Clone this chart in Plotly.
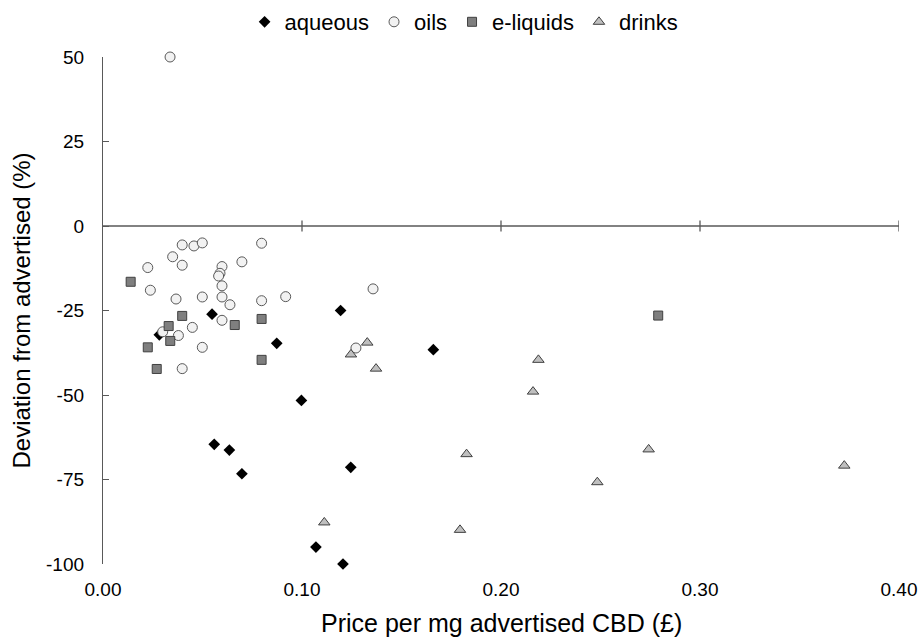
import plotly.graph_objects as go

aqueous_x = [0.0548, 0.0283, 0.0873, 0.0997, 0.0559, 0.0635, 0.0698, 0.1194, 0.166, 0.1245, 0.107, 0.1206]
aqueous_y = [-26.1, -32.2, -34.7, -51.6, -64.6, -66.3, -73.3, -25.0, -36.6, -71.4, -95.0, -100.0]

oils_x = [0.0337, 0.0398, 0.0457, 0.0499, 0.0797, 0.035, 0.0398, 0.0225, 0.0598, 0.0588, 0.0581,
          0.0698, 0.0598, 0.0238, 0.0367, 0.0499, 0.0598, 0.0638, 0.0797, 0.0918, 0.0598, 0.0449,
          0.030, 0.0379, 0.0499, 0.0398, 0.1357, 0.1271]
oils_y = [50.0, -5.6, -5.9, -5.0, -5.1, -9.1, -11.6, -12.3, -12.0, -14.0, -14.8,
          -10.6, -17.7, -19.0, -21.6, -21.0, -21.0, -23.3, -22.1, -20.9, -27.9, -30.0,
          -31.3, -32.4, -35.9, -42.2, -18.6, -36.1]

eliq_x = [0.0139, 0.0398, 0.033, 0.0662, 0.0797, 0.0338, 0.0225, 0.0797, 0.027, 0.279]
eliq_y = [-16.5, -26.6, -29.6, -29.3, -27.5, -34.0, -35.9, -39.6, -42.3, -26.5]

drinks_x = [0.1328, 0.1246, 0.1372, 0.1827, 0.1112, 0.1794, 0.2188, 0.2161, 0.2742, 0.3725, 0.2484]
drinks_y = [-34.5, -38.0, -42.2, -67.5, -87.7, -89.9, -39.6, -49.0, -66.1, -70.9, -75.8]

x_ticks = [0.0, 0.1, 0.2, 0.3, 0.4]
x_tick_labels = ["0.00", "0.10", "0.20", "0.30", "0.40"]
y_ticks = [50, 25, 0, -25, -50, -75, -100]
y_tick_labels = ["50", "25", "0", "-25", "-50", "-75", "-100"]

x_title = "Price per mg advertised CBD (£)"
y_title = "Deviation from advertised (%)"

axis_col = "#595959"
font = "Liberation Sans, Arial, sans-serif"

W, H = 919, 638

fig = go.Figure()
fig.add_trace(go.Scatter(x=aqueous_x, y=aqueous_y, mode="markers", name="aqueous",
                         marker=dict(symbol="diamond", size=9, color="#000000",
                                     line=dict(width=0)), cliponaxis=False))
fig.add_trace(go.Scatter(x=oils_x, y=oils_y, mode="markers", name="oils",
                         marker=dict(symbol="circle", size=10, color="#f2f2f2",
                                     line=dict(width=1, color="#595959")), cliponaxis=False))
fig.add_trace(go.Scatter(x=eliq_x, y=eliq_y, mode="markers", name="e-liquids",
                         marker=dict(symbol="square", size=9, color="#7f7f7f",
                                     line=dict(width=1, color="#404040")), cliponaxis=False))
fig.add_trace(go.Scatter(x=drinks_x, y=drinks_y, mode="markers", name="drinks",
                         marker=dict(symbol="triangle-up", size=10, color="#bfbfbf",
                                     line=dict(width=1, color="#404040")), cliponaxis=False))

# horizontal axis line at y=0 with crossing tick marks
shapes = [dict(type="line", xref="x", yref="y", x0=x_ticks[0], x1=x_ticks[-1], y0=0, y1=0,
               line=dict(color=axis_col, width=1.3), layer="below")]
for t in x_ticks[1:]:
    shapes.append(dict(type="line", xref="x", yref="y", x0=t, x1=t, y0=-1.6, y1=1.6,
                       line=dict(color=axis_col, width=1.3), layer="below"))

annotations = [
    dict(text=x_title, xref="paper", yref="paper", x=0.5, y=0, yanchor="middle",
         xanchor="center", yshift=-59, showarrow=False, font=dict(size=25)),
    dict(text=y_title, xref="paper", yref="paper", x=0, y=0.5, xanchor="center",
         yanchor="middle", xshift=-82, showarrow=False, textangle=-90, font=dict(size=24)),
]

fig.update_layout(
    width=W, height=H,
    paper_bgcolor="white", plot_bgcolor="white",
    margin=dict(l=103, r=20, t=57, b=74, autoexpand=False),
    font=dict(family=font, size=19, color="#000000"),
    shapes=shapes,
    annotations=annotations,
    showlegend=True,
    legend=dict(orientation="h", xref="container", yref="container",
                x=0.505, xanchor="center", y=1 - 22 / H, yanchor="middle",
                font=dict(size=22), itemwidth=30, bgcolor="rgba(0,0,0,0)"),
    xaxis=dict(range=[0, 0.4], tickvals=x_ticks, ticktext=x_tick_labels,
               showgrid=False, zeroline=False, showline=False, ticks="",
               automargin=False, ticklabelstandoff=12),
    yaxis=dict(range=[-100, 50], tickvals=y_ticks, ticktext=y_tick_labels,
               showgrid=False, zeroline=False, showline=True, linecolor=axis_col, linewidth=1.3,
               ticks="inside", ticklen=6, tickcolor=axis_col, tickwidth=1.3,
               automargin=False, ticklabelstandoff=14),
)

fig.write_html("out.html", config={"displayModeBar": False},
               post_script="document.body.style.margin='0';document.body.style.overflow='hidden';")
